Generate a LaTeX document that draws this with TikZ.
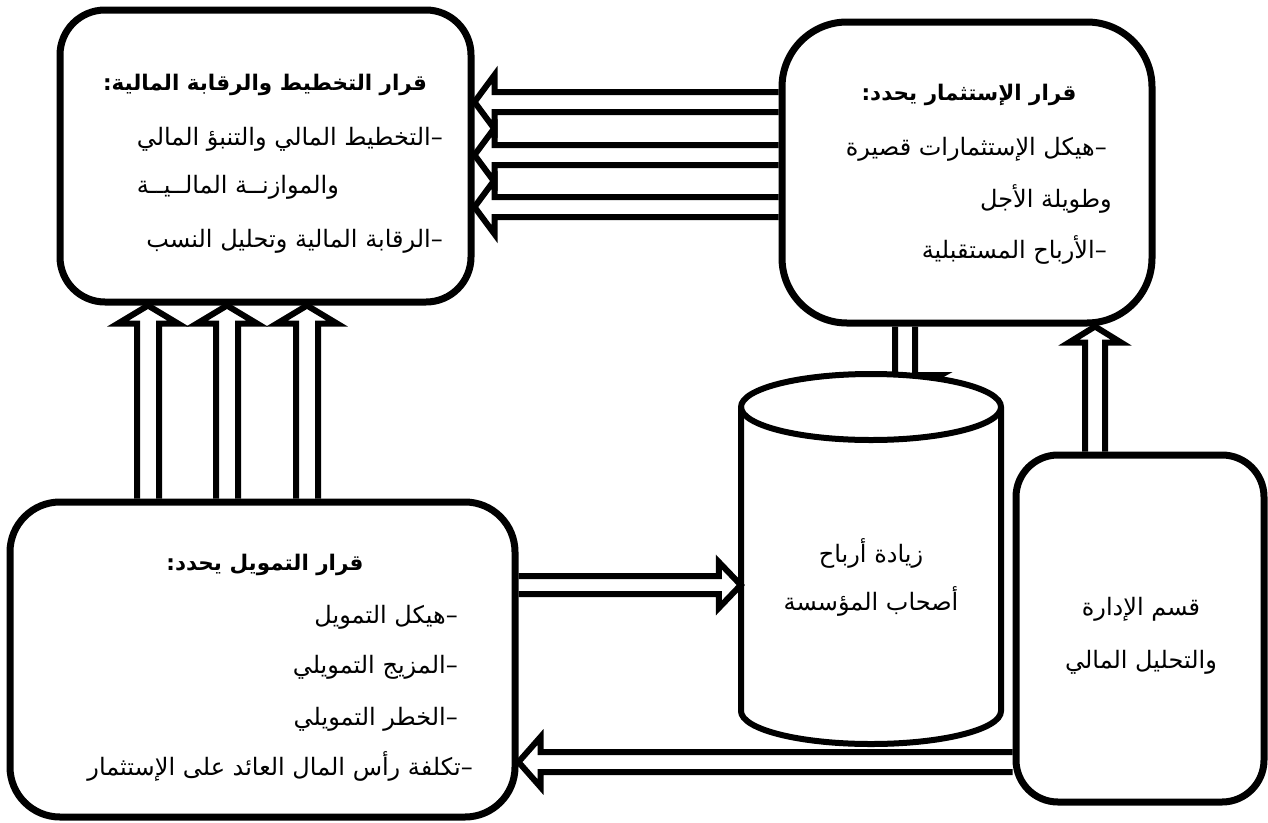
\documentclass[tikz,border=0pt]{standalone}
\usepackage{fontspec}
\usetikzlibrary{calc}
\TeXXeTstate=1
\newfontfamily\arabicfont[Script=Arabic]{DejaVu Sans}
\newcommand*\arrw{10pt}
\newcommand*\arrh{27pt}
\newcommand*\arrl{20pt}
\newcommand\artext[1]{\beginR #1\endR}
\tikzset{
  box/.style={draw, line width=7pt, rectangle, inner sep=0pt},
  dblarrow/.style={line width=6pt, line join=miter, to path={
    let \p1=(\tikztostart), \p2=(\tikztotarget),
        \p3=($(\p2)!\arrl!(\p1)$)
    in ($(\p1)!\arrw!90:(\p2)$) -- ($(\p3)!\arrw!90:(\p2)$) -- ($(\p3)!\arrh!90:(\p2)$) -- (\p2)
       -- ($(\p3)!\arrh!-90:(\p2)$) -- ($(\p3)!\arrw!-90:(\p2)$) -- ($(\p1)!\arrw!-90:(\p2)$)
  }},
  headw/.code={\def\arrh{#1}},
  headl/.code={\def\arrl{#1}},
  shaftw/.code={\def\arrw{#1}},
  cylline/.style={line width=6pt},
  txt/.style={font=\arabicfont\fontsize{24}{28}\selectfont, inner sep=0pt},
  ttl/.style={font=\arabicfont\bfseries\fontsize{21.5}{26}\selectfont, inner sep=0pt},
}
\begin{document}
\begin{tikzpicture}[x=1pt, y=-1pt]
\useasboundingbox (0,0) rectangle (1268,822);
% boxes
\node[box, rounded corners=45pt, minimum width=411pt, minimum height=292pt] (tl) at (265.5,156) {};
\node[box, rounded corners=65pt, minimum width=370pt, minimum height=301pt] (tr) at (967,172.5) {};
\node[box, rounded corners=50pt, minimum width=505pt, minimum height=315pt] (bl) at (262.5,659.5) {};
\node[box, rounded corners=42pt, minimum width=248pt, minimum height=347pt] (br) at (1140,628.5) {};
\node[inner sep=0pt, minimum width=260pt, minimum height=370pt] (cyl) at (871,559) {};
\coordinate (cyltip) at (905,395);
% arrow hidden by the cylinder top
\draw[dblarrow, headw=36pt] (tr.south -| 905,0) to (cyltip);
% cylinder
\draw[cylline, fill=white] (741,407) -- (741,711)
  arc[start angle=180, end angle=0, x radius=130, y radius=33] -- (1001,407)
  arc[start angle=0, end angle=-180, x radius=130, y radius=33] -- cycle;
\draw[cylline] (741,407) arc[start angle=180, end angle=0, x radius=130, y radius=33];
% connectors
\draw[dblarrow] (tr.west |- 0,102) to (tl.east |- 0,102);
\draw[dblarrow] (tr.west |- 0,155) to (tl.east |- 0,155);
\draw[dblarrow] (tr.west |- 0,207) to (tl.east |- 0,207);
\draw[dblarrow, shaftw=11pt, headw=30pt, headl=18pt] (bl.north -| 148,0) to (tl.south -| 148,0);
\draw[dblarrow, shaftw=11pt, headw=30pt, headl=18pt] (bl.north -| 227,0) to (tl.south -| 227,0);
\draw[dblarrow, shaftw=11pt, headw=30pt, headl=18pt] (bl.north -| 307,0) to (tl.south -| 307,0);
\draw[dblarrow, shaftw=9pt, headw=23pt, headl=22pt] (bl.east |- 0,585) to (cyl.west |- 0,585);
\draw[dblarrow, headw=26pt, headl=16pt] (br.north -| 1095,0) to (tr.south -| 1095,0);
\draw[dblarrow, headw=25pt, headl=22pt] (br.west |- 0,762) to (bl.east |- 0,762);
% texts
\node[ttl, anchor=base] (tlt) at (265,90) {\artext{قرار التخطيط والرقابة المالية:}};
\node[txt, anchor=base east] (tl1) at (443,145) {\artext{–التخطيط المالي والتنبؤ المالي}};
\node[txt, anchor=base west] (tl2) at (tl1.west |- 0,193) {\artext{والموازنــة المالــيــة}};
\node[txt, anchor=base east] (tl3) at (443,247) {\artext{–الرقابة المالية وتحليل النسب}};
\node[ttl, anchor=base] (trt) at (969,100) {\artext{قرار الإستثمار يحدد:}};
\node[txt, anchor=base east] (tr1) at (1107,155) {\artext{–هيكل الإستثمارات قصيرة}};
\node[txt, anchor=base east] (tr2) at (1112,207) {\artext{وطويلة الأجل}};
\node[txt, anchor=base east] (tr3) at (1107,258) {\artext{–الأرباح المستقبلية}};
\node[ttl, anchor=base] (blt) at (265,570) {\artext{قرار التمويل يحدد:}};
\node[txt, anchor=base east] (bl1) at (458,623) {\artext{–هيكل التمويل}};
\node[txt, anchor=base east] (bl2) at (458,673) {\artext{–المزيج التمويلي}};
\node[txt, anchor=base east] (bl3) at (458,725) {\artext{–الخطر التمويلي}};
\node[txt, anchor=base east] (bl4) at (473,775) {\artext{–تكلفة رأس المال العائد على الإستثمار}};
\node[txt, anchor=base] (cy1) at (871,562) {\artext{زيادة أرباح}};
\node[txt, anchor=base] (cy2) at (871,610) {\artext{أصحاب المؤسسة}};
\node[txt, anchor=base] (br1) at (1141,615) {\artext{قسم الإدارة}};
\node[txt, anchor=base] (br2) at (1141,668) {\artext{والتحليل المالي}};
\end{tikzpicture}
\end{document}
